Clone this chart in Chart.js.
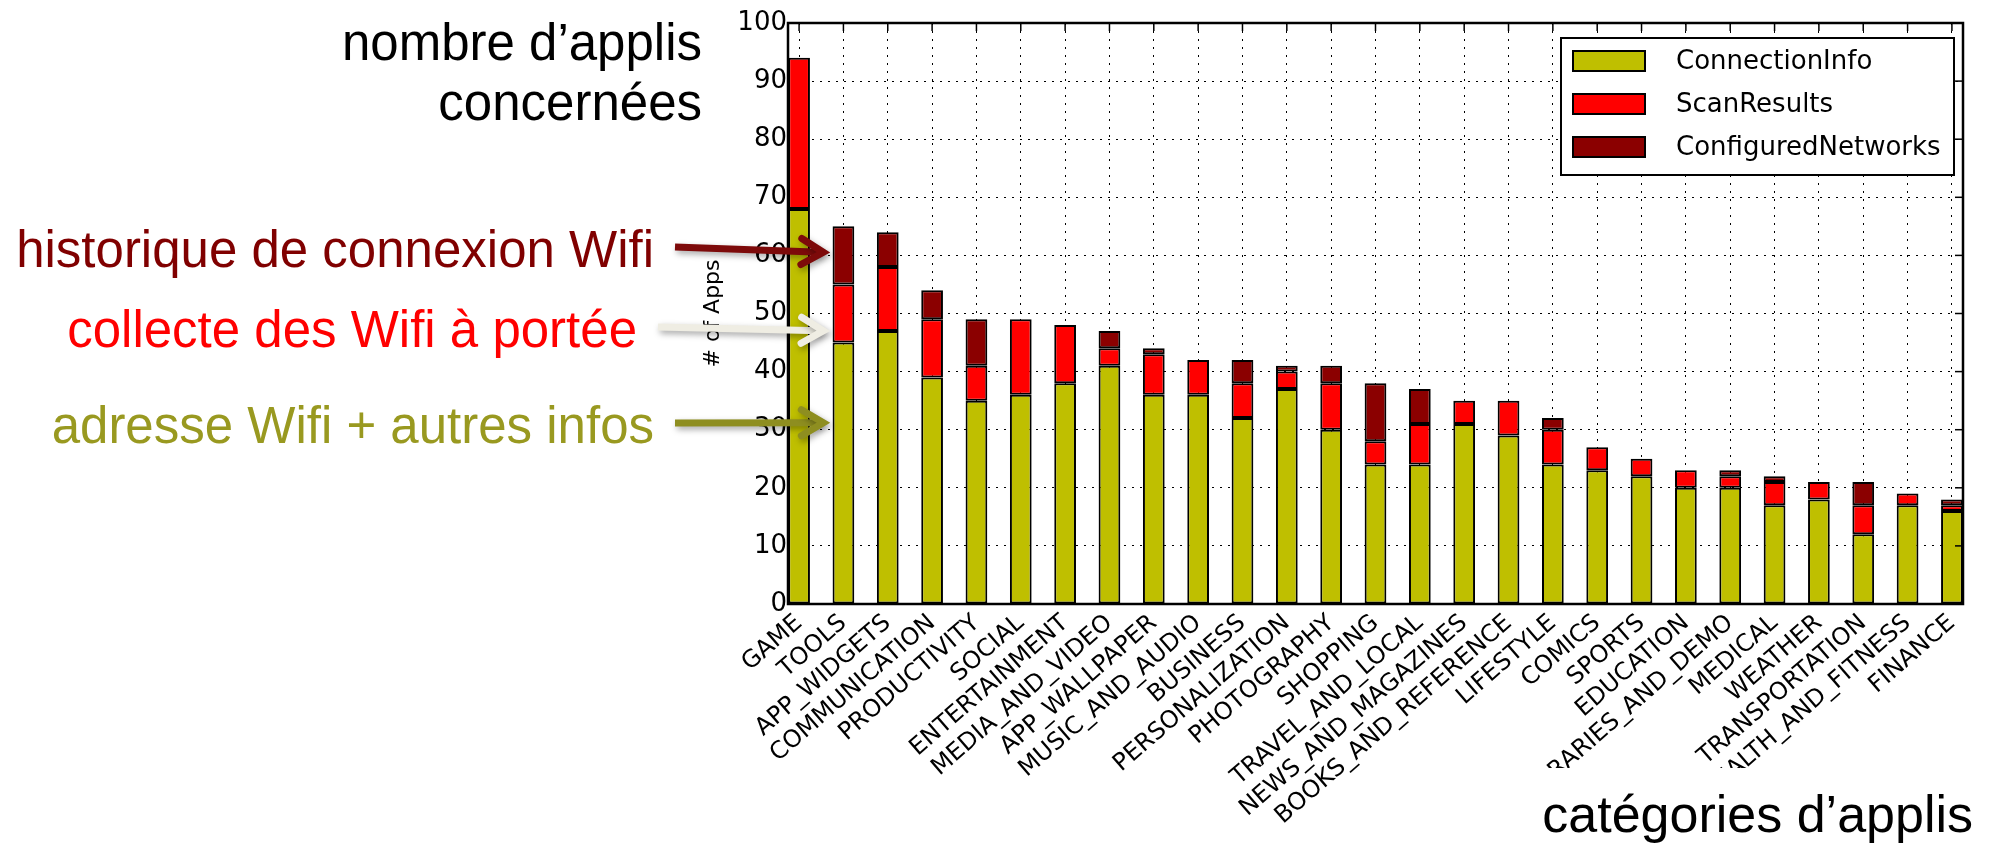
<!DOCTYPE html>
<html>
<head>
<meta charset="utf-8">
<script src="https://cdn.jsdelivr.net/npm/chart.js@4.4.0/dist/chart.umd.min.js"></script>
<style>
  html, body { margin: 0; padding: 0; background: #fff; }
  #cadre { width: 1991px; height: 843px; }
</style>
</head>
<body>
<div id="cadre"><canvas id="grafico-wifi" width="1991" height="843"></canvas></div>
<script>
const categories = ['GAME', 'TOOLS', 'APP_WIDGETS', 'COMMUNICATION', 'PRODUCTIVITY', 'SOCIAL', 'ENTERTAINMENT',
  'MEDIA_AND_VIDEO', 'APP_WALLPAPER', 'MUSIC_AND_AUDIO', 'BUSINESS', 'PERSONALIZATION', 'PHOTOGRAPHY', 'SHOPPING',
  'TRAVEL_AND_LOCAL', 'NEWS_AND_MAGAZINES', 'BOOKS_AND_REFERENCE', 'LIFESTYLE', 'COMICS', 'SPORTS', 'EDUCATION',
  'LIBRARIES_AND_DEMO', 'MEDICAL', 'WEATHER', 'TRANSPORTATION', 'HEALTH_AND_FITNESS', 'FINANCE'];
const connectionInfo = [68, 45, 47, 39, 35, 36, 38, 41, 36, 36, 32, 37, 30, 24, 24, 31, 29, 24, 23, 22, 20, 20, 17, 18, 12, 17, 16];
const scanResults = [26, 10, 11, 10, 6, 13, 10, 3, 7, 6, 6, 3, 8, 4, 7, 4, 6, 6, 4, 3, 3, 2, 4, 3, 5, 2, 1];
const configuredNetworks = [0, 10, 6, 5, 8, 0, 0, 3, 1, 0, 4, 1, 3, 10, 6, 0, 0, 2, 0, 0, 0, 1, 1, 0, 4, 0, 1];
const seriesNames = ['ConnectionInfo', 'ScanResults', 'ConfiguredNetworks'];
const yTicks = [0, 10, 20, 30, 40, 50, 60, 70, 80, 90, 100];

const cores = ['#bfbf00', '#ff0000', '#8b0000'];

// bars sit on the left half of each unit slot, like matplotlib's edge-aligned bars
function pontos(valores) { return valores.map((v, i) => ({ x: i + 0.25, y: v })); }

function fleche(ctx, x0, y0, x1, y1, couleur) {
  const ang = Math.atan2(y1 - y0, x1 - x0);
  const len = Math.hypot(x1 - x0, y1 - y0);
  ctx.save();
  ctx.translate(x1, y1);
  ctx.rotate(ang);
  ctx.shadowColor = 'rgba(0,0,0,0.35)';
  ctx.shadowBlur = 6;
  ctx.shadowOffsetX = 2;
  ctx.shadowOffsetY = 3;
  ctx.strokeStyle = couleur;
  ctx.lineWidth = 7;
  ctx.lineCap = 'butt';
  ctx.beginPath();
  ctx.moveTo(-len, 0);
  ctx.lineTo(-9, 0);
  ctx.stroke();
  ctx.lineCap = 'round';
  ctx.lineJoin = 'miter';
  ctx.beginPath();
  ctx.moveTo(-28, -13);
  ctx.lineTo(-6, 0);
  ctx.lineTo(-28, 13);
  ctx.stroke();
  ctx.restore();
}

const decor = {
  id: 'decor',
  afterDraw(chart) {
    const { ctx, chartArea: a, scales: { x, y } } = chart;
    ctx.save();

    // frame + inner ticks
    ctx.strokeStyle = '#000';
    ctx.lineWidth = 1.5;
    x.ticks.forEach(t => {
      const px = x.getPixelForValue(t.value);
      ctx.beginPath(); ctx.moveTo(px, a.top); ctx.lineTo(px, a.top + 8); ctx.stroke();
    });
    y.ticks.forEach(t => {
      const py = y.getPixelForValue(t.value);
      ctx.beginPath(); ctx.moveTo(a.right, py); ctx.lineTo(a.right - 8, py); ctx.stroke();
    });
    ctx.lineWidth = 2.5;
    ctx.strokeRect(a.left, a.top, a.right - a.left, a.bottom - a.top);

    // legend box
    const lx = 1561, ly = 38, lw = 393, lh = 137;
    ctx.fillStyle = '#fff';
    ctx.fillRect(lx, ly, lw, lh);
    ctx.lineWidth = 2;
    ctx.strokeRect(lx, ly, lw, lh);
    ctx.font = '26px "DejaVu Sans"';
    ctx.textAlign = 'left';
    ctx.textBaseline = 'middle';
    seriesNames.forEach((nom, k) => {
      const cy = 61 + k * 43;
      ctx.fillStyle = cores[k];
      ctx.fillRect(1573, cy - 10, 72, 20);
      ctx.strokeRect(1573, cy - 10, 72, 20);
      ctx.fillStyle = '#000';
      ctx.fillText(nom, 1676, cy + 1);
    });

    // annotations on the left
    ctx.font = '51px "Liberation Sans", Arial, sans-serif';
    ctx.textAlign = 'right';
    ctx.textBaseline = 'alphabetic';
    ctx.fillStyle = '#000';
    ctx.fillText('nombre d\u2019applis', 702, 60);
    ctx.fillText('concernées', 702, 120);
    ctx.fillStyle = '#800000';
    ctx.fillText('historique de connexion Wifi', 654, 267);
    ctx.fillStyle = '#ff0000';
    ctx.fillText('collecte des Wifi à portée', 637, 347);
    ctx.fillStyle = '#999920';
    ctx.fillText('adresse Wifi + autres infos', 654, 443);

    // arrows point at the TOOLS bar
    const cible = x.getPixelForValue(1) - 3;
    fleche(ctx, 675, 247, cible, y.getPixelForValue(60.5), '#7d0a0a');
    fleche(ctx, 658, 327, cible, y.getPixelForValue(47), '#efede3');
    fleche(ctx, 675, 423, cible, y.getPixelForValue(31.2), '#8e8e20');

    // x axis caption over a white patch (hides the label ends as in the slide)
    ctx.fillStyle = '#fff';
    ctx.fillRect(1500, 768, 491, 75);
    ctx.fillStyle = '#000';
    ctx.font = '52px "Liberation Sans", Arial, sans-serif';
    ctx.fillText('catégories d\u2019applis', 1973, 832);
    ctx.restore();
  }
};

const ctxWifi = document.getElementById('grafico-wifi').getContext('2d');
const conjuntos = [connectionInfo, scanResults, configuredNetworks].map((serie, k) => ({
  label: seriesNames[k],
  data: pontos(serie),
  backgroundColor: cores[k],
  borderColor: '#000',
  borderWidth: 2,
  borderSkipped: false,
  categoryPercentage: 1,
  barPercentage: 0.49
}));

window.graficoWifi = new Chart(ctxWifi, {
  type: 'bar',
  data: { datasets: conjuntos },
  options: {
    responsive: false,
    animation: false,
    layout: { padding: { left: 698, top: 23, right: 28, bottom: 0 } },
    plugins: { legend: { display: false }, tooltip: { enabled: false } },
    scales: {
      x: {
        type: 'linear', stacked: true, min: 0, max: 26.5, offset: false,
        afterBuildTicks: s => { s.ticks = categories.map((c, i) => ({ value: i + 0.25 })); },
        afterFit: s => { s.height = 239; },
        grid: { color: '#000', lineWidth: 1, drawTicks: false, offset: false },
        border: { display: false, dash: [2, 6] },
        ticks: {
          autoSkip: false, minRotation: 41, maxRotation: 41, padding: 5, color: '#000',
          font: { family: 'DejaVu Sans', size: 24 },
          callback: v => categories[Math.round(v - 0.25)]
        }
      },
      y: {
        stacked: true, min: 0, max: 100,
        afterBuildTicks: s => { s.ticks = yTicks.map(v => ({ value: v })); },
        afterFit: s => { s.width = 90; },
        grid: { color: '#000', lineWidth: 1, drawTicks: false },
        border: { display: false, dash: [2, 6] },
        ticks: { padding: 1, color: '#000', font: { family: 'DejaVu Sans', size: 26 } },
        title: { display: true, text: '# of Apps', color: '#000', font: { family: 'DejaVu Sans', size: 22 }, padding: { top: 2, bottom: 0 } }
      }
    }
  },
  plugins: [decor]
});
</script>
</body>
</html>
